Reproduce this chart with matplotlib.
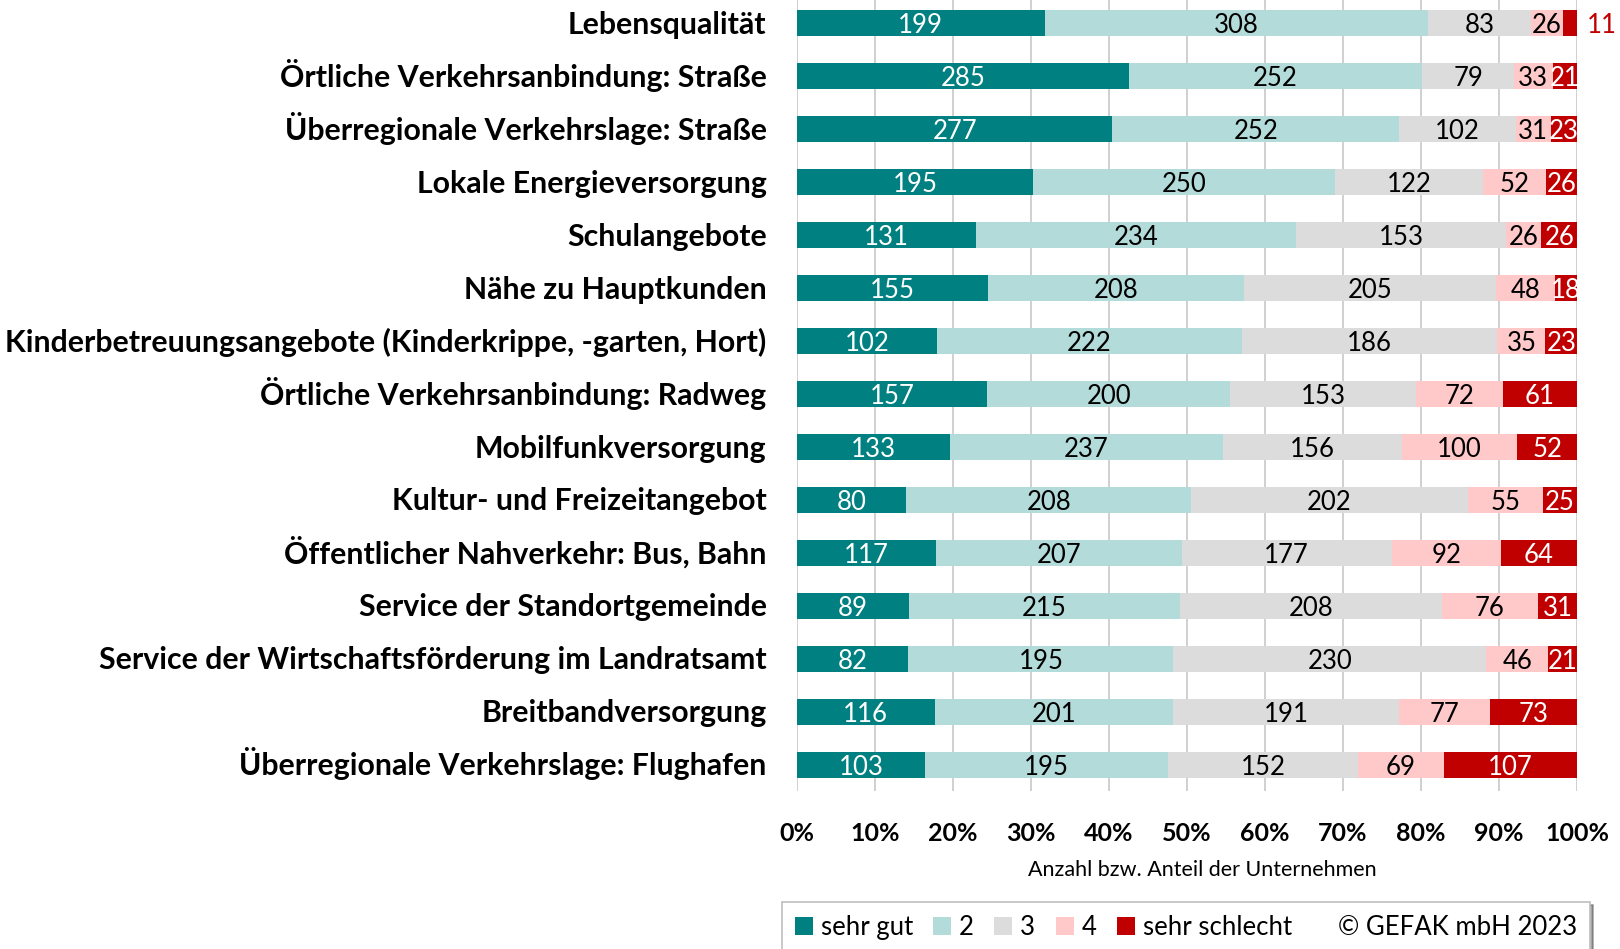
import matplotlib
matplotlib.use("Agg")
import matplotlib.pyplot as plt
from matplotlib.patches import Patch
import numpy as np

plt.rcParams['font.family'] = ['Lato', 'DejaVu Sans']

categories = [
    "Lebensqualität",
    "Örtliche Verkehrsanbindung: Straße",
    "Überregionale Verkehrslage: Straße",
    "Lokale Energieversorgung",
    "Schulangebote",
    "Nähe zu Hauptkunden",
    "Kinderbetreuungsangebote (Kinderkrippe, -garten, Hort)",
    "Örtliche Verkehrsanbindung: Radweg",
    "Mobilfunkversorgung",
    "Kultur- und Freizeitangebot",
    "Öffentlicher Nahverkehr: Bus, Bahn",
    "Service der Standortgemeinde",
    "Service der Wirtschaftsförderung im Landratsamt",
    "Breitbandversorgung",
    "Überregionale Verkehrslage: Flughafen",
]
sehr_gut = [199, 285, 277, 195, 131, 155, 102, 157, 133, 80, 117, 89, 82, 116, 103]
note_2 = [308, 252, 252, 250, 234, 208, 222, 200, 237, 208, 207, 215, 195, 201, 195]
note_3 = [83, 79, 102, 122, 153, 205, 186, 153, 156, 202, 177, 208, 230, 191, 152]
note_4 = [26, 33, 31, 52, 26, 48, 35, 72, 100, 55, 92, 76, 46, 77, 69]
sehr_schlecht = [11, 21, 23, 26, 26, 18, 23, 61, 52, 25, 64, 31, 21, 73, 107]

series_names = ["sehr gut", "2", "3", "4", "sehr schlecht"]
series = [sehr_gut, note_2, note_3, note_4, sehr_schlecht]
colors = ["#008080", "#B2DBDA", "#DCDCDC", "#FFC9C9", "#C00000"]
text_colors = ["white", "black", "black", "black", "white"]
tick_labels = [f"{i}%" for i in range(0, 101, 10)]

fig = plt.figure(figsize=(16.2, 9.49), dpi=100)
ax = fig.add_axes([797 / 1620, 1 - 791 / 949, (1577 - 797) / 1620, 794 / 949])

data = np.array(series, dtype=float)
totals = data.sum(axis=0)
shares = data / totals
y = np.arange(len(categories))
left = np.zeros(len(categories))
for k in range(len(series)):
    ax.barh(y, shares[k], left=left, height=0.49, color=colors[k],
            label=series_names[k], zorder=2)
    for i in range(len(categories)):
        w = shares[k][i]
        if w < 0.02:
            ax.text(1.0 + 0.012, y[i], f"{int(data[k][i])}", ha='left',
                    va='center_baseline', color=colors[k], fontsize=18.5,
                    zorder=3, clip_on=False)
        else:
            ax.text(left[i] + w / 2, y[i], f"{int(data[k][i])}", ha='center',
                    va='center_baseline', color=text_colors[k], fontsize=18.5,
                    zorder=3)
    left += shares[k]

ax.set_ylim(len(categories) - 0.5, -0.5)
ax.set_xlim(0, 1)
ax.set_yticks(y)
ax.set_yticklabels([])
for i, cat in enumerate(categories):
    ax.text(-0.039, y[i] + 0.2, cat, ha='right', va='baseline', fontsize=21.8,
            fontweight='bold', transform=ax.get_yaxis_transform(), clip_on=False)
ax.set_xticks(np.linspace(0, 1, 11))
ax.set_xticklabels(tick_labels, fontsize=18, fontweight='bold')
ax.tick_params(axis='both', length=0)
ax.tick_params(axis='x', pad=22)
ax.grid(axis='x', color='#C8C8C8', linewidth=1.2, zorder=0)
ax.set_axisbelow(True)
for s in ax.spines.values():
    s.set_visible(False)
ax.set_xlabel("Anzahl bzw. Anteil der Unternehmen", fontsize=15.5)
ax.xaxis.set_label_coords(0.52, -0.087)

handles = [Patch(facecolor=c) for c in colors] + [Patch(facecolor='none', edgecolor='none')]
labels = series_names + ["© GEFAK mbH 2023"]
leg = fig.legend(handles, labels, loc='upper left', bbox_to_anchor=(782 / 1620, 1 - 902 / 949),
                 ncol=6, fontsize=18.5, frameon=True, fancybox=False, shadow=True,
                 handlelength=0.7, handleheight=0.7, handletextpad=0.3,
                 columnspacing=0.8, borderpad=0.5, borderaxespad=0)
leg.get_frame().set_edgecolor('#BFBFBF')
leg.get_frame().set_linewidth(1.2)

fig.savefig("out.png", dpi=100)
